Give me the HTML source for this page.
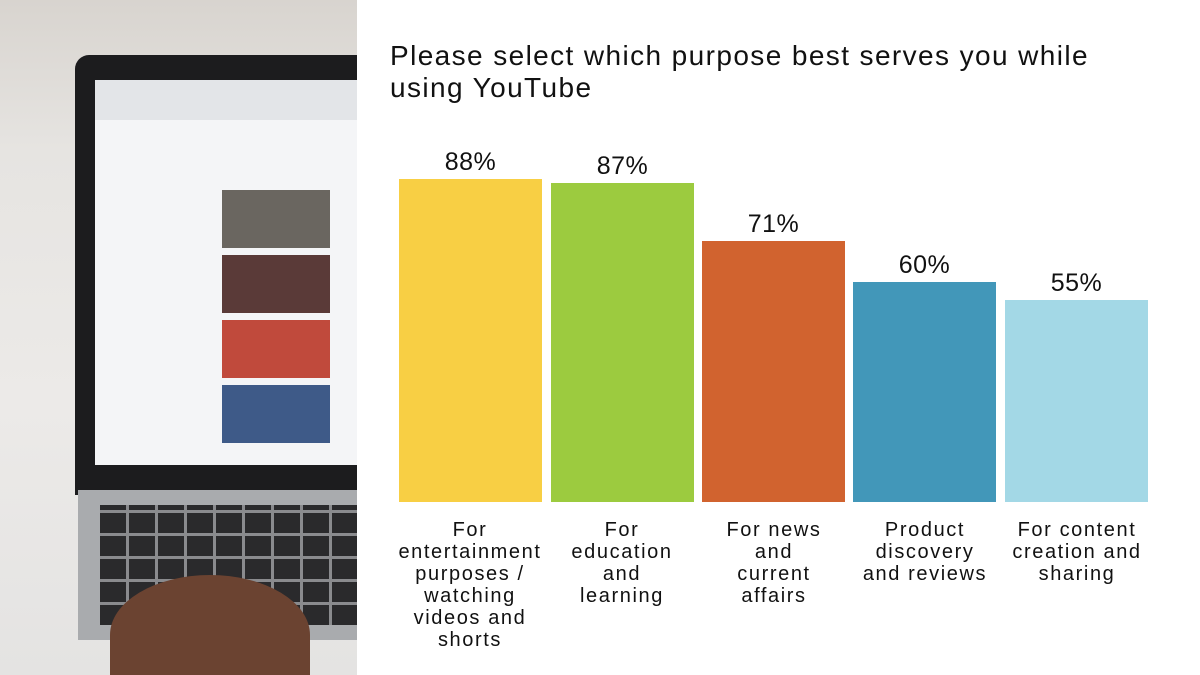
<!DOCTYPE html>
<html><head><meta charset="utf-8"><style>
body{margin:0;width:1200px;height:675px;overflow:hidden;background:#fff;font-family:"Liberation Sans",sans-serif;position:relative}
.a{position:absolute}
.bar{position:absolute;bottom:173px;width:143px}
.v{position:absolute;width:143px;text-align:center;font-size:25px;color:#111;letter-spacing:0.5px}
.c{position:absolute;width:170px;text-align:center;font-size:20px;line-height:22px;color:#111;top:519px;letter-spacing:1.6px;white-space:nowrap}
</style></head><body>
<div class="a" style="left:0;top:0;width:357px;height:675px;overflow:hidden;background:linear-gradient(#d8d4cf 0,#e6e4e1 150px,#eceae8 400px,#e4e3e2 675px)">
<div class="a" style="left:75px;top:55px;width:282px;height:440px;background:#1c1c1e;border-radius:14px 0 0 0"></div>
<div class="a" style="left:95px;top:80px;width:262px;height:385px;background:#f4f5f7"></div>
<div class="a" style="left:95px;top:80px;width:262px;height:40px;background:#e3e5e8"></div>
<div class="a" style="left:222px;top:190px;width:108px;height:58px;background:#6a6660"></div>
<div class="a" style="left:222px;top:255px;width:108px;height:58px;background:#5a3a38"></div>
<div class="a" style="left:222px;top:320px;width:108px;height:58px;background:#c04a3c"></div>
<div class="a" style="left:222px;top:385px;width:108px;height:58px;background:#3e5a88"></div>
<div class="a" style="left:78px;top:490px;width:279px;height:150px;background:#a9abae"></div>
<div class="a" style="left:100px;top:505px;width:257px;height:120px;background:repeating-linear-gradient(90deg,#2a2a2c 0 26px,#8a8b8e 26px 29px)"></div>
<div class="a" style="left:100px;top:505px;width:257px;height:120px;background:repeating-linear-gradient(0deg,transparent 0 20px,#8a8b8e 20px 23px)"></div>
<div class="a" style="left:110px;top:575px;width:200px;height:120px;background:#6b4331;border-radius:50% 50% 0 0"></div>
</div>
<div class="a" style="left:390px;top:40px;font-size:28px;line-height:32px;color:#111;letter-spacing:1.4px;white-space:nowrap">Please select which purpose best serves you while<br>using YouTube</div>
<div class="bar" style="left:399px;height:323px;background:#F8CF44"></div>
<div class="bar" style="left:551px;height:319px;background:#9CCB3F"></div>
<div class="bar" style="left:702px;height:261px;background:#D1632F"></div>
<div class="bar" style="left:853px;height:220px;background:#4297B9"></div>
<div class="bar" style="left:1005px;height:202px;background:#A3D8E6"></div>
<div class="v" style="left:399px;top:148px">88%</div>
<div class="v" style="left:551px;top:152px">87%</div>
<div class="v" style="left:702px;top:210px">71%</div>
<div class="v" style="left:853px;top:251px">60%</div>
<div class="v" style="left:1005px;top:269px">55%</div>
<div class="c" style="left:385px">For<br>entertainment<br>purposes /<br>watching<br>videos and<br>shorts</div>
<div class="c" style="left:537px">For<br>education<br>and<br>learning</div>
<div class="c" style="left:689px">For news<br>and<br>current<br>affairs</div>
<div class="c" style="left:840px">Product<br>discovery<br>and reviews</div>
<div class="c" style="left:992px">For content<br>creation and<br>sharing</div>
</body></html>
